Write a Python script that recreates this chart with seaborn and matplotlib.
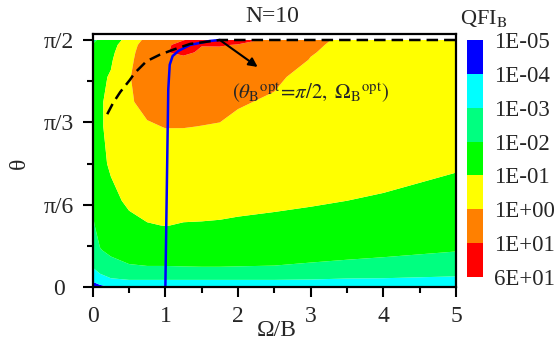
import numpy as np
import matplotlib
matplotlib.use("Agg")
import matplotlib.pyplot as plt
import seaborn as sns
from matplotlib.colors import ListedColormap, BoundaryNorm
from matplotlib.cm import ScalarMappable

sns.set_theme(style="ticks")
plt.rcParams['font.family'] = ['Liberation Serif', 'DejaVu Serif']
plt.rcParams['mathtext.fontset'] = 'stix'

# ---- data ----
OMEGA = [0.0, 0.1, 0.25, 0.5, 0.75, 1.0, 1.25, 1.5, 1.75, 2.0, 2.5, 3.0, 3.5, 4.0, 5.0]
# theta in units of pi/2
THETA_FRAC = [0, 0.01, 0.03, 0.08, 0.15, 0.25, 0.35, 0.5, 0.65, 0.75, 0.85, 0.92, 0.95, 0.98, 1.0]

# log10(QFI_B), one list per Omega column (values along THETA_FRAC)
LOGQ_W000 = [-4.6, -4.3, -3.8, -3.0, -2.6, -2.15, -1.85, -1.6, -1.5, -1.5, -1.6, -1.75, -1.85, -1.95, -2.2]
LOGQ_W010 = [-4.4, -4.0, -3.4, -2.6, -2.05, -1.6, -1.35, -1.15, -1.08, -1.08, -1.15, -1.27, -1.37, -1.55, -1.85]
LOGQ_W025 = [-3.98, -3.8, -3.1, -2.35, -1.8, -1.4, -1.15, -0.92, -0.82, -0.82, -0.93, -1.1, -1.2, -1.33, -1.45]
LOGQ_W050 = [-3.95, -3.6, -3.0, -2.1, -1.6, -1.15, -0.9, -0.55, -0.25, -0.08, -0.05, -0.2, -0.3, -0.45, -0.7]
LOGQ_W075 = [-3.95, -3.6, -3.0, -2.05, -1.5, -1.03, -0.8, -0.45, -0.07, 0.2, 0.45, 0.55, 0.55, 0.48, 0.3]
LOGQ_W100 = [-3.95, -3.6, -3.0, -2.05, -1.5, -0.99, -0.78, -0.42, 0.02, 0.3, 0.6, 0.85, 0.97, 0.9, 0.6]
LOGQ_W125 = [-3.95, -3.6, -3.0, -2.03, -1.55, -1.03, -0.8, -0.45, 0.02, 0.3, 0.6, 0.85, 1.12, 1.2, 0.98]
LOGQ_W150 = [-3.95, -3.55, -3.0, -2.02, -1.55, -1.04, -0.8, -0.43, -0.01, 0.25, 0.55, 0.8, 0.92, 1.02, 1.25]
LOGQ_W175 = [-3.95, -3.5, -3.0, -2.02, -1.56, -1.06, -0.8, -0.42, -0.04, 0.2, 0.5, 0.75, 0.86, 1.04, 1.4]
LOGQ_W200 = [-3.95, -3.45, -3.0, -2.03, -1.58, -1.1, -0.82, -0.45, -0.12, 0.05, 0.35, 0.6, 0.76, 0.97, 1.22]
LOGQ_W250 = [-3.98, -3.45, -3.0, -2.05, -1.6, -1.18, -0.85, -0.55, -0.25, -0.07, 0.1, 0.3, 0.45, 0.62, 0.85]
LOGQ_W300 = [-4.02, -3.5, -3.03, -2.12, -1.7, -1.25, -0.92, -0.7, -0.45, -0.33, -0.2, -0.02, 0.03, 0.07, 0.1]
LOGQ_W350 = [-4.08, -3.55, -3.1, -2.18, -1.78, -1.33, -1.0, -0.78, -0.58, -0.45, -0.32, -0.2, -0.15, -0.11, -0.08]
LOGQ_W400 = [-4.1, -3.6, -3.12, -2.22, -1.85, -1.4, -1.04, -0.85, -0.68, -0.56, -0.45, -0.36, -0.32, -0.28, -0.25]
LOGQ_W500 = [-4.15, -3.7, -3.2, -2.5, -1.96, -1.55, -1.25, -0.92, -0.78, -0.68, -0.58, -0.5, -0.47, -0.44, -0.42]

# optimal Omega for each theta (solid blue curve)
OPT_OMEGA_THETA = [0.0, 0.4, 0.8, 0.9, 0.935, 0.956, 0.98, 0.996, 1.0]
OPT_OMEGA_VALUE = [1.0, 1.02, 1.04, 1.06, 1.1, 1.18, 1.34, 1.61, 1.75]
# optimal theta for each Omega (dashed black curve)
OPT_THETA_OMEGA = [0.2, 0.28, 0.38, 0.51, 0.58, 0.74, 0.92, 1.11, 1.34, 1.75, 5.0]
OPT_THETA_VALUE = [0.70, 0.745, 0.79, 0.838, 0.867, 0.914, 0.94, 0.961, 0.984, 1.0, 1.0]

LEVELS = [-5, -4, -3, -2, -1, 0, 1, np.log10(60)]
LEVEL_LABELS = ["1E-05", "1E-04", "1E-03", "1E-02", "1E-01", "1E+00", "1E+01", "6E+01"]
COLORS = ["#0000FF", "#00FFFF", "#00FF80", "#00FF00", "#FFFF00", "#FF8000", "#FF0000"]

X_TICKS = [0, 1, 2, 3, 4, 5]
Y_TICK_FRAC = [0, 1/3, 2/3, 1]
Y_TICK_LABELS = ["0", "π/6", "π/3", "π/2"]

# ---- figure ----
fig = plt.figure(figsize=(5.56, 3.46), dpi=100)
ax = fig.add_axes([92.7/556, 1-287.3/346, (456-92.7)/556, (287.3-33.5)/346])

Z = np.array([LOGQ_W000, LOGQ_W010, LOGQ_W025, LOGQ_W050, LOGQ_W075, LOGQ_W100, LOGQ_W125,
              LOGQ_W150, LOGQ_W175, LOGQ_W200, LOGQ_W250, LOGQ_W300, LOGQ_W350, LOGQ_W400,
              LOGQ_W500]).T
TH = np.array(THETA_FRAC) * np.pi / 2
ax.contourf(OMEGA, TH, Z, levels=LEVELS, colors=COLORS, antialiased=True)

sns.lineplot(x=OPT_OMEGA_VALUE, y=np.array(OPT_OMEGA_THETA) * np.pi / 2, sort=False,
             estimator=None, color="#0000FF", lw=1.8, ax=ax)
sns.lineplot(x=OPT_THETA_OMEGA, y=np.array(OPT_THETA_VALUE) * np.pi / 2, sort=False,
             estimator=None, color="black", lw=1.8, linestyle=(0, (4.6, 2.4)), ax=ax)

ax.annotate("", xy=(2.27, 0.891 * np.pi / 2), xytext=(1.75, np.pi / 2),
            arrowprops=dict(arrowstyle="-|>", color="black", lw=1.5, mutation_scale=13,
                            shrinkA=0, shrinkB=0))
ax.text(1.915, 0.765 * np.pi / 2,
        r"$(\theta_{\rm B}{}^{\rm opt}\!=\!\pi/2,\ \Omega_{\rm B}{}^{\rm opt})$",
        fontsize=15, ha="left", va="baseline")

ax.set_xlim(0, 5)
ax.set_ylim(0, 1.612)
ax.set_xticks(X_TICKS)
ax.set_xticks(np.arange(0.5, 5, 1.0), minor=True)
ax.set_yticks(np.array(Y_TICK_FRAC) * np.pi / 2)
ax.set_yticklabels(Y_TICK_LABELS)
ax.set_yticks(np.array([1, 3, 5]) * np.pi / 12, minor=True)
ax.tick_params(which="both", direction="out", color="black", width=1.5, labelsize=17,
               top=False, right=False)
ax.tick_params(which="major", length=7.5)
ax.tick_params(which="minor", length=4)
ax.tick_params(axis="x", which="major", pad=6)
ax.tick_params(axis="y", which="major", pad=17)
for lab in ax.get_yticklabels():
    lab.set_horizontalalignment("center")
for s in ax.spines.values():
    s.set_color("black")
    s.set_linewidth(1.6)
ax.set_xlabel("")
ax.set_ylabel("")

fig.text(19/556, 1-163/346, "θ", rotation=90, fontsize=17, ha="center", va="center")
fig.text(277/556, 1-320/346, "Ω/B", fontsize=17, ha="center", va="top")
fig.text(272/556, 1-22/346, "N=10", fontsize=17, ha="center", va="baseline")
fig.text(460/556, 1-24/346, r"QFI$_{\mathrm{B}}$", fontsize=16, ha="left", va="baseline")

# colorbar
cax = fig.add_axes([467/556, 1-277/346, 16/556, 237/346])
cmap = ListedColormap(COLORS)
norm = BoundaryNorm(LEVELS, cmap.N)
cb = fig.colorbar(ScalarMappable(norm=norm, cmap=cmap), cax=cax, spacing="uniform",
                  ticks=LEVELS)
cb.ax.set_yticklabels(LEVEL_LABELS)
cb.ax.invert_yaxis()
cb.outline.set_visible(False)
cb.ax.tick_params(length=0, labelsize=16.5, pad=8)

fig.savefig("out.png", dpi=100)
